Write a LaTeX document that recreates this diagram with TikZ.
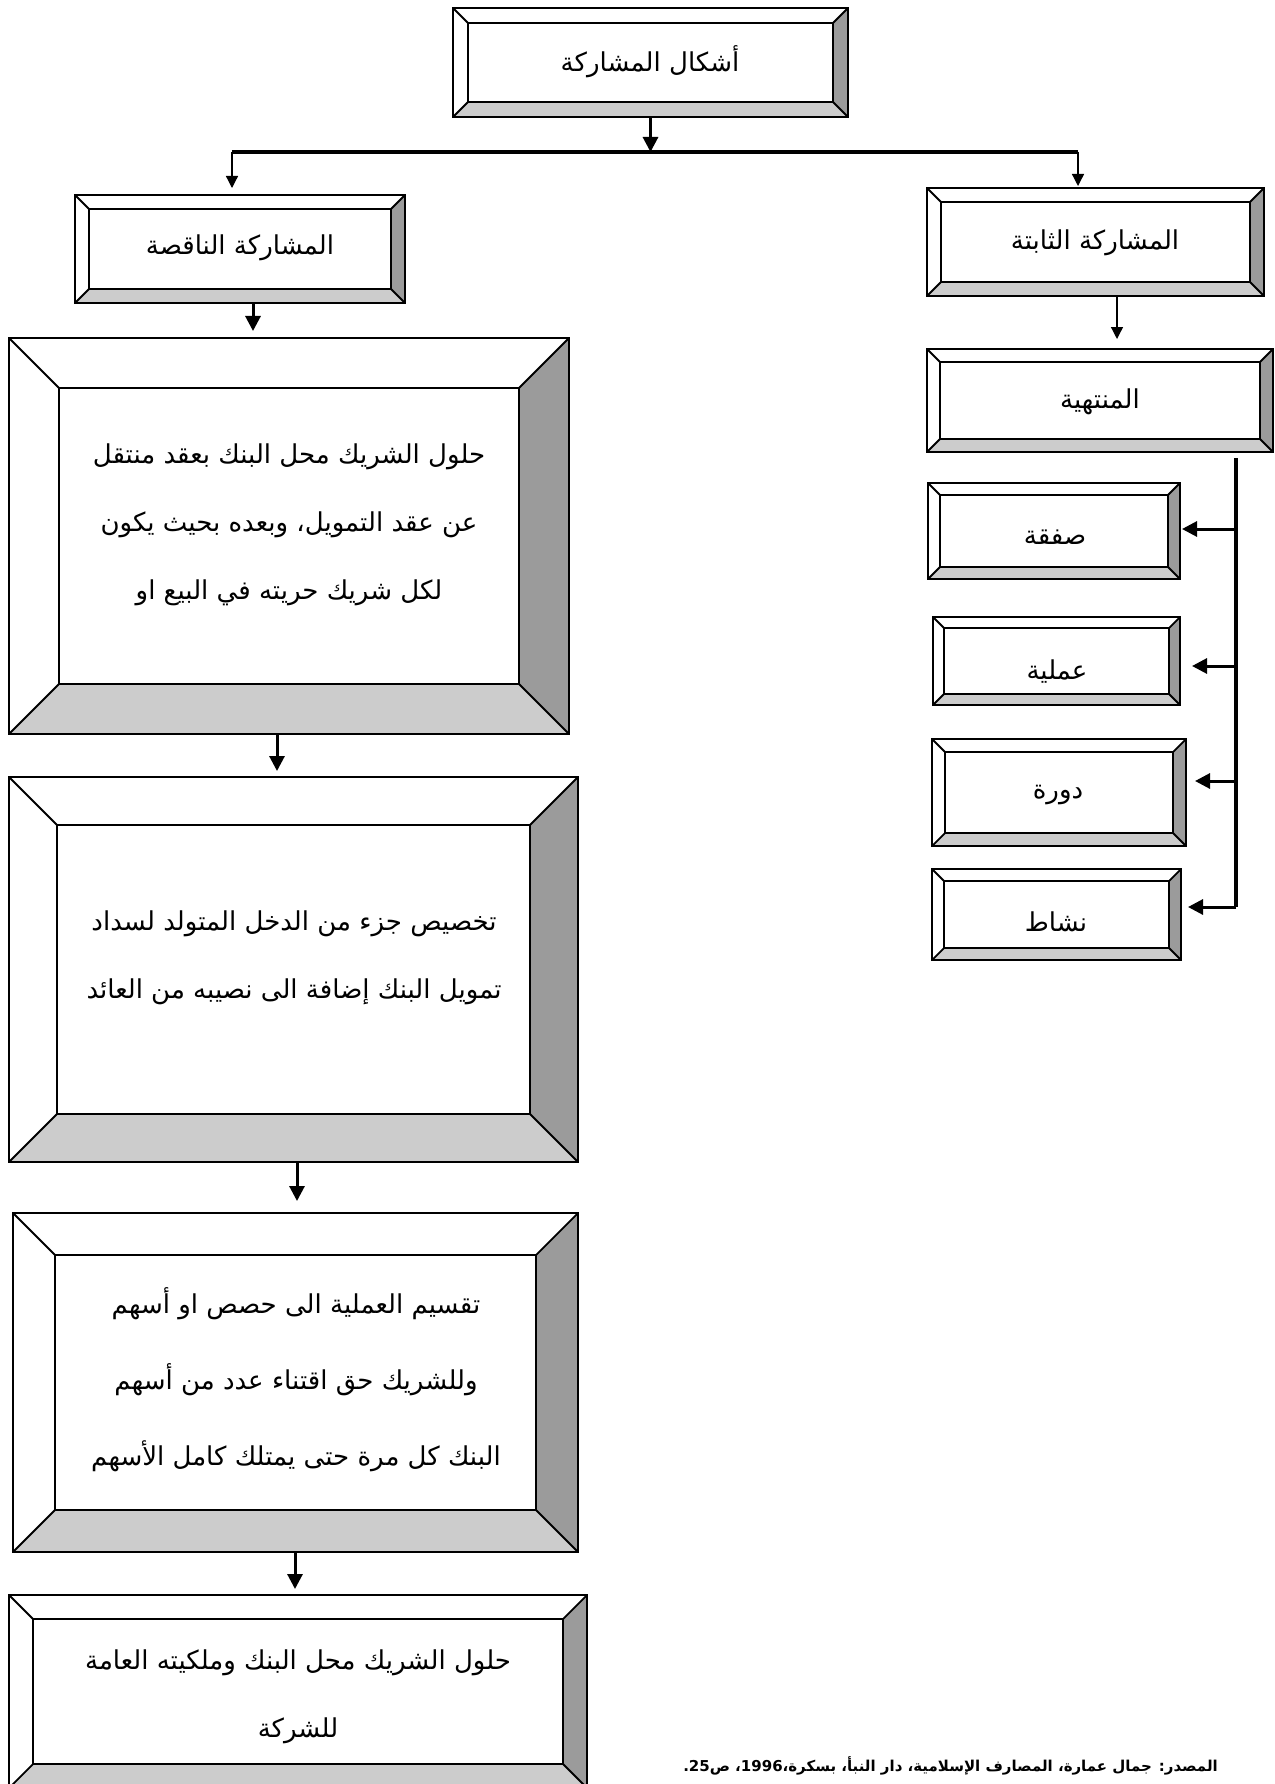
\documentclass[tikz,border=0pt]{standalone}
\usepackage{fontspec}
\newfontfamily\arabicfont[Script=Arabic]{DejaVu Sans}
\TeXXeTstate=1
\usetikzlibrary{arrows.meta}
\definecolor{bevlight}{RGB}{204,204,204}
\definecolor{bevdark}{RGB}{155,155,155}
\tikzset{
  boxline/.style={draw=black, line width=2.6pt},
  diagline/.style={draw=black, line width=1.8pt},
  txt/.style={font=\arabicfont\fontsize{26}{68}\selectfont, align=center, inner sep=0pt},
  srctxt/.style={font=\arabicfont\bfseries\fontsize{15}{20}\selectfont, inner sep=0pt},
  thickarrow/.style={line width=3pt, -{Triangle[length=15pt,width=15pt]}},
  thinarrow/.style={line width=1.3pt, -{Triangle[length=12pt,width=12pt]}},
  spine/.style={line width=3.2pt},
}
\newcommand\bbox[6]{%
  \node[draw=none, fill=white, minimum width={#4pt-#2pt}, minimum height={#5pt-#3pt}, inner sep=0pt, outer sep=0pt] (#1) at ({(#2+#4)/2},{(#3+#5)/2}) {};
  \fill[bevdark] (#4,#3) -- (#4,#5) -- ({#4-#6},{#5-#6}) -- ({#4-#6},{#3+#6}) -- cycle;
  \fill[bevlight] (#2,#5) -- (#4,#5) -- ({#4-#6},{#5-#6}) -- ({#2+#6},{#5-#6}) -- cycle;
  \draw[boxline] ({#2+#6},{#3+#6}) rectangle ({#4-#6},{#5-#6});
  \draw[diagline] (#2,#3) -- ({#2+#6},{#3+#6}) (#4,#3) -- ({#4-#6},{#3+#6}) (#2,#5) -- ({#2+#6},{#5-#6}) (#4,#5) -- ({#4-#6},{#5-#6});
  \draw[boxline] (#2,#3) rectangle (#4,#5);
}
\begin{document}
\begin{tikzpicture}[x=1pt,y=-1pt]
\useasboundingbox (0,0) rectangle (1274,1784);
\clip (0,0) rectangle (1274,1784);
\fill[white] (0,0) rectangle (1274,1784);

% top
\bbox{top}{453}{8}{848}{117}{15}
\node[txt] (topt) at (650,62) {\beginR أشكال المشاركة\endR};
\coordinate (hl) at (232,152);
\coordinate (hr) at (1078,152);
\draw[spine] (hl) -- (hr);
\draw[thickarrow] (top.south) -- (top.south |- hl);
\coordinate (ld) at (232,188);
\coordinate (rd) at (1078,186);
\draw[thinarrow] (hl) -- (ld);
\draw[thinarrow] (hr) -- (rd);

% left column
\bbox{naq}{75}{195}{405}{303}{14}
\node[txt] (naqt) at (240,248) {\beginR المشاركة الناقصة\endR};

\bbox{b1}{9}{338}{569}{734}{50}
\node[txt] (b1t) at (289,525) {\beginR حلول الشريك محل البنك بعقد منتقل\endR\\\beginR عن عقد التمويل، وبعده بحيث يكون\endR\\\beginR لكل شريك حريته في البيع او\endR};

\bbox{b2}{9}{777}{578}{1162}{48}
\node[txt] (b2t) at (294,958) {\beginR تخصيص جزء من الدخل المتولد لسداد\endR\\\beginR تمويل البنك إضافة الى نصيبه من العائد\endR};

\bbox{b3}{13}{1213}{578}{1552}{42}
\node[txt, font=\arabicfont\fontsize{26}{76}\selectfont] (b3t) at (296,1380) {\beginR تقسيم العملية الى حصص او أسهم\endR\\\beginR وللشريك حق اقتناء عدد من أسهم\endR\\\beginR البنك كل مرة حتى يمتلك كامل الأسهم\endR};

\bbox{b4}{9}{1595}{587}{1788}{24}
\node[txt] (b4t) at (298,1697) {\beginR حلول الشريك محل البنك وملكيته العامة\endR\\\beginR للشركة\endR};

\coordinate (a1) at (253,303);
\draw[thickarrow, shorten >=7pt] (a1) -- (a1 |- b1.north);
\coordinate (a2) at (277,734);
\draw[thickarrow, shorten >=6pt] (a2) -- (a2 |- b2.north);
\coordinate (a3) at (297,1162);
\draw[thickarrow, shorten >=12pt] (a3) -- (a3 |- b3.north);
\coordinate (a4) at (295,1552);
\draw[thickarrow, shorten >=6pt] (a4) -- (a4 |- b4.north);

% right column
\bbox{thab}{927}{188}{1264}{296}{14}
\node[txt] (thabt) at (1095,243) {\beginR المشاركة الثابتة\endR};
\bbox{mun}{927}{349}{1273}{452}{13}
\node[txt] (munt) at (1100,402) {\beginR المنتهية\endR};
\coordinate (a5) at (1117,296);
\draw[thinarrow, shorten >=10pt] (a5) -- (a5 |- mun.north);

\bbox{saf}{928}{483}{1180}{579}{12}
\node[txt] (saft) at (1055,537) {\beginR صفقة\endR};
\bbox{ama}{933}{617}{1180}{705}{11}
\node[txt] (amat) at (1057,672) {\beginR عملية\endR};
\bbox{daw}{932}{739}{1186}{846}{13}
\node[txt] (dawt) at (1058,795) {\beginR دورة\endR};
\bbox{nash}{932}{869}{1181}{960}{12}
\node[txt] (nasht) at (1056,922) {\beginR نشاط\endR};

\coordinate (sp1) at (1236,458);
\coordinate (sp2) at (1236,907);
\draw[spine] (sp1) -- (sp2);
\coordinate (s1) at (1236,529);
\coordinate (s2) at (1236,666);
\coordinate (s3) at (1236,781);
\coordinate (s4) at (1236,907);
\draw[thickarrow, shorten >=2pt] (s1) -- (s1 -| saf.east);
\draw[thickarrow, shorten >=12pt] (s2) -- (s2 -| ama.east);
\draw[thickarrow, shorten >=9pt] (s3) -- (s3 -| daw.east);
\draw[thickarrow, shorten >=7pt] (s4) -- (s4 -| nash.east);

% source
\node[srctxt, anchor=east] (src) at (1218,1766) {\beginR المصدر: جمال عمارة، المصارف الإسلامية، دار النبأ، بسكرة،\beginL1996\endL، ص\beginL25\endL.\endR};
\end{tikzpicture}
\end{document}
